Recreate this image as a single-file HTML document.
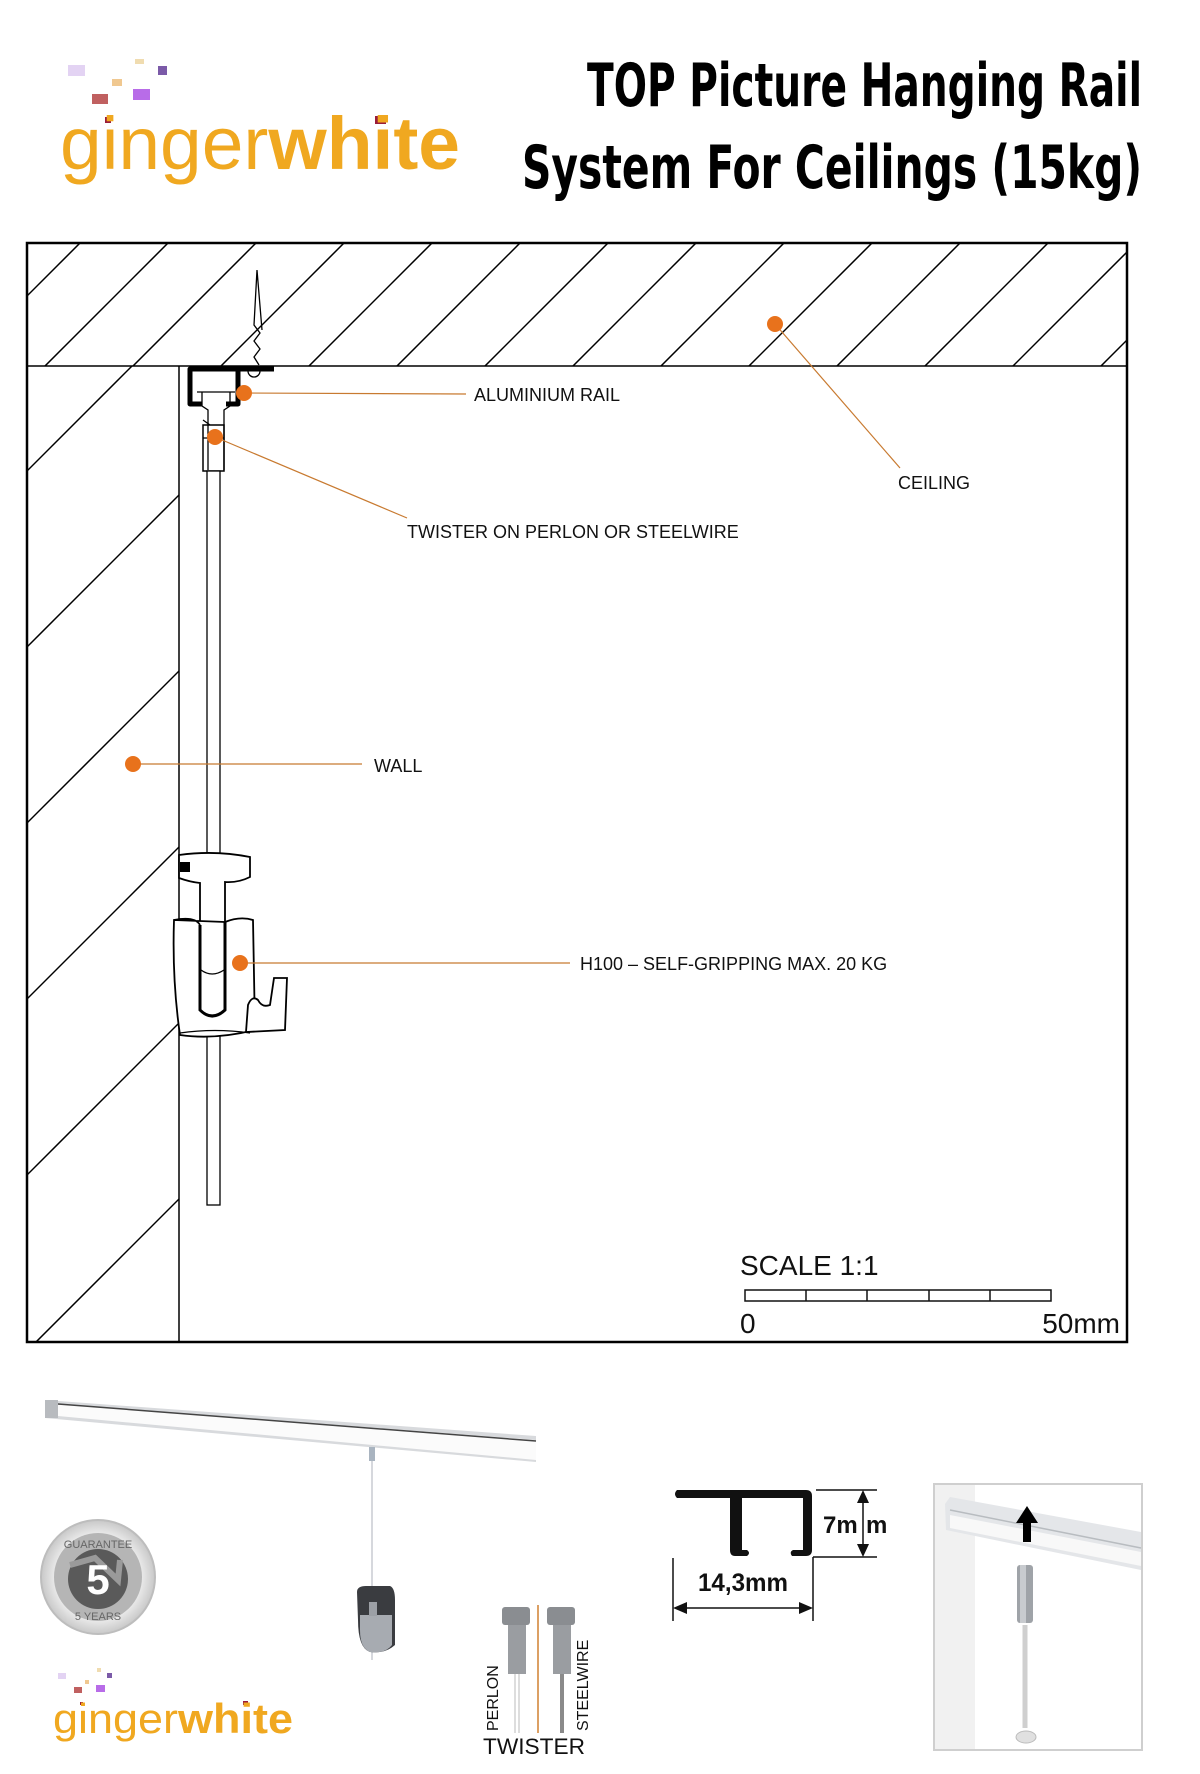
<!DOCTYPE html>
<html><head><meta charset="utf-8"><style>
html,body{margin:0;padding:0;background:#fff;}
svg{display:block;}
</style></head><body>
<svg width="1200" height="1774" viewBox="0 0 1200 1774" xmlns="http://www.w3.org/2000/svg" font-family="Liberation Sans, sans-serif">
<defs>
<clipPath id="ceil"><rect x="27" y="243" width="1100" height="123"/></clipPath>
<clipPath id="wall"><rect x="27" y="366" width="152" height="976"/></clipPath>
<linearGradient id="gr" x1="0" y1="0" x2="0" y2="1"><stop offset="0" stop-color="#9a9da2"/><stop offset="1" stop-color="#c9ccd0"/></linearGradient>
<radialGradient id="bd" cx="0.5" cy="0.5" r="0.5"><stop offset="0.7" stop-color="#f2f2f2"/><stop offset="1" stop-color="#c8c8c8"/></radialGradient>
</defs>

<!-- top logo -->
<rect x="68" y="65" width="17" height="11" fill="#e3d3f3"/>
<rect x="135" y="59" width="9" height="5" fill="#f0dcb0"/>
<rect x="158" y="66" width="9" height="9" fill="#7b5aa8"/>
<rect x="112" y="79" width="10" height="7" fill="#f0c890"/>
<rect x="92" y="94" width="16" height="10" fill="#c06060"/>
<rect x="133" y="89" width="17" height="11" fill="#b86ce8"/>
<rect x="105" y="117" width="6" height="6" fill="#9a1c3a"/>
<rect x="375" y="116" width="11" height="8" fill="#9a1c3a"/>
<text x="60" y="169" font-size="74" fill="#f0a820" textLength="400" lengthAdjust="spacingAndGlyphs"><tspan>ginger</tspan><tspan font-weight="bold">white</tspan></text>

<!-- title -->
<text x="1142" y="106" font-size="60" font-weight="bold" text-anchor="end" textLength="555" lengthAdjust="spacingAndGlyphs" font-family="DejaVu Sans Condensed, Liberation Sans, sans-serif">TOP Picture Hanging Rail</text>
<text x="1142" y="188" font-size="60" font-weight="bold" text-anchor="end" textLength="620" lengthAdjust="spacingAndGlyphs" font-family="DejaVu Sans Condensed, Liberation Sans, sans-serif">System For Ceilings (15kg)</text>

<!-- main box -->
<g stroke="#000" stroke-width="1.5" fill="none">
<g clip-path="url(#ceil)">
<line x1="-200" y1="523" x2="700" y2="-377"/>
<line x1="-112" y1="523" x2="788" y2="-377"/>
<line x1="-24" y1="523" x2="876" y2="-377"/>
<line x1="64" y1="523" x2="964" y2="-377"/>
<line x1="152" y1="523" x2="1052" y2="-377"/>
<line x1="240" y1="523" x2="1140" y2="-377"/>
<line x1="328" y1="523" x2="1228" y2="-377"/>
<line x1="416" y1="523" x2="1316" y2="-377"/>
<line x1="504" y1="523" x2="1404" y2="-377"/>
<line x1="592" y1="523" x2="1492" y2="-377"/>
<line x1="680" y1="523" x2="1580" y2="-377"/>
<line x1="768" y1="523" x2="1668" y2="-377"/>
<line x1="856" y1="523" x2="1756" y2="-377"/>
<line x1="944" y1="523" x2="1844" y2="-377"/>
<line x1="1032" y1="523" x2="1932" y2="-377"/>
<line x1="1120" y1="523" x2="2020" y2="-377"/>
<line x1="1208" y1="523" x2="2108" y2="-377"/>
</g>
<g clip-path="url(#wall)">
<line x1="-200" y1="698" x2="500" y2="-2"/>
<line x1="-200" y1="874" x2="700" y2="-26"/>
<line x1="-200" y1="1050" x2="900" y2="-50"/>
<line x1="-200" y1="1226" x2="1100" y2="-74"/>
<line x1="-200" y1="1402" x2="1300" y2="-98"/>
<line x1="-200" y1="1578" x2="1500" y2="-122"/>
<line x1="-200" y1="1754" x2="1700" y2="54"/>
</g>
<line x1="27" y1="366" x2="1127" y2="366"/>
<line x1="179" y1="366" x2="179" y2="1342"/>
</g>
<rect x="27" y="243" width="1100" height="1099" fill="none" stroke="#000" stroke-width="2.5"/>

<!-- screw -->
<path d="M257,270 L254,325 L260,333 L254,341 L260,349 L254,357 L259,365 M257,270 L262,330" stroke="#000" stroke-width="1.3" fill="none"/>
<path d="M248,371 A6,6 0 0 0 260,371" stroke="#000" stroke-width="1.3" fill="none"/>
<!-- rail -->
<path d="M274,369 H190 V404 H202 M238,371 V404 H226" stroke="#000" stroke-width="5" fill="none" stroke-linejoin="round"/>
<path d="M197,392 H235 M202,392 V406 L208,410 V470 M230,392 V406 L224,410 V470" stroke="#000" stroke-width="1.3" fill="none"/>
<path d="M203,420 L210,425 M203,438 H224" stroke="#000" stroke-width="1.3" fill="none"/>
<rect x="203" y="425" width="21" height="46" fill="none" stroke="#000" stroke-width="1.5"/>
<!-- wire -->
<rect x="207" y="471" width="13" height="734" fill="#fff" stroke="#000" stroke-width="1.3"/>
<!-- H100 -->
<path d="M179,855 Q215,850 250,857 V877 Q238,883 225,882 V1010 Q212,1018 200,1010 V883 Q190,882 179,878 Z" fill="#fff" stroke="#000" stroke-width="1.8"/>
<rect x="180" y="862" width="10" height="10" fill="#000"/>
<path d="M174,920 Q195,916 200,925 M225,922 Q240,916 253,920 L255,1030 Q215,1040 180,1035 Q172,980 174,920 Z" fill="#fff" stroke="#000" stroke-width="1.8"/>
<path d="M200,925 V1010 Q212,1022 225,1010 V922" fill="none" stroke="#000" stroke-width="3"/>
<path d="M201,970 Q212,978 224,970" fill="none" stroke="#000" stroke-width="1.3"/>
<path d="M246,1032 L248,1005 Q252,995 258,1000 Q262,1008 270,1005 L274,978 H287 L285,1030 Z" fill="#fff" stroke="#000" stroke-width="1.8"/>
<path d="M180,1033 Q215,1028 250,1033" fill="none" stroke="#000" stroke-width="1.3"/>

<!-- leaders -->
<g stroke="#c87a30" stroke-width="1.2">
<line x1="244" y1="393" x2="466" y2="394"/>
<line x1="215" y1="437" x2="407" y2="518"/>
<line x1="775" y1="324" x2="900" y2="468"/>
<line x1="133" y1="764" x2="362" y2="764"/>
<line x1="240" y1="963" x2="570" y2="963"/>
</g>
<g fill="#e8721c">
<circle cx="244" cy="393" r="8"/>
<circle cx="215" cy="437" r="8"/>
<circle cx="775" cy="324" r="8"/>
<circle cx="133" cy="764" r="8"/>
<circle cx="240" cy="963" r="8"/>
</g>
<g font-size="18" fill="#111">
<text x="474" y="401">ALUMINIUM RAIL</text>
<text x="407" y="538">TWISTER ON PERLON OR STEELWIRE</text>
<text x="898" y="489">CEILING</text>
<text x="374" y="772">WALL</text>
<text x="580" y="970">H100 – SELF-GRIPPING MAX. 20 KG</text>
</g>
<!-- scale -->
<text x="740" y="1275" font-size="28" fill="#111">SCALE 1:1</text>
<rect x="745" y="1290" width="306" height="11" fill="#fff" stroke="#111" stroke-width="1.5"/>
<g stroke="#111" stroke-width="1.5"><line x1="806" y1="1290" x2="806" y2="1301"/><line x1="867" y1="1290" x2="867" y2="1301"/><line x1="929" y1="1290" x2="929" y2="1301"/><line x1="990" y1="1290" x2="990" y2="1301"/></g>
<text x="740" y="1333" font-size="28" fill="#111">0</text>
<text x="1120" y="1333" font-size="28" fill="#111" text-anchor="end">50mm</text>

<!-- bottom rail photo -->
<polygon points="45,1400 536,1436 536,1462 45,1418" fill="#d8dadd"/>
<polygon points="58,1404 536,1440 536,1460 58,1416" fill="#fbfbfb"/>
<line x1="58" y1="1404" x2="536" y2="1441" stroke="#444" stroke-width="1.5"/>
<rect x="45" y="1400" width="13" height="18" fill="#b8bbbf"/>
<rect x="369" y="1447" width="6" height="14" fill="#a9b4c0"/>
<line x1="372" y1="1461" x2="372" y2="1660" stroke="#c8ccd2" stroke-width="1.5"/>
<path d="M357,1592 Q357,1586 366,1586 H390 Q395,1588 395,1600 V1645 Q385,1654 370,1652 Q358,1648 358,1620 Z" fill="#3a3c40"/>
<path d="M360,1615 H392 V1645 Q385,1654 370,1652 Q360,1648 360,1630 Z" fill="#a7abb1"/>
<rect x="369" y="1602" width="8" height="14" fill="#9ca0a6"/>

<!-- badge -->
<circle cx="98" cy="1577" r="57" fill="url(#bd)" stroke="#bdbdbd" stroke-width="2"/>
<circle cx="98" cy="1577" r="44" fill="#b5b5b5"/>
<circle cx="98" cy="1579" r="30" fill="#5a5a5a"/>
<path d="M70,1565 L95,1558 L118,1580 L120,1560" fill="none" stroke="#9a9a9a" stroke-width="6"/>
<text x="98" y="1594" font-size="42" font-weight="bold" fill="#fff" text-anchor="middle">5</text>
<text x="98" y="1548" font-size="11" fill="#666" text-anchor="middle">GUARANTEE</text>
<text x="98" y="1620" font-size="11" fill="#666" text-anchor="middle">5 YEARS</text>

<!-- bottom logo -->
<rect x="58" y="1673" width="8" height="6" fill="#e3d3f3"/>
<rect x="97" y="1668" width="4" height="4" fill="#f0dcb0"/>
<rect x="107" y="1673" width="5" height="5" fill="#7b5aa8"/>
<rect x="85" y="1680" width="4" height="4" fill="#f0c890"/>
<rect x="74" y="1687" width="8" height="6" fill="#c06060"/>
<rect x="96" y="1685" width="9" height="7" fill="#b86ce8"/>
<rect x="80" y="1702" width="3" height="3" fill="#9a1c3a"/>
<rect x="243" y="1701" width="5" height="4" fill="#9a1c3a"/>
<text x="53" y="1733" font-size="42" fill="#f0a820" textLength="240" lengthAdjust="spacingAndGlyphs"><tspan>ginger</tspan><tspan font-weight="bold">white</tspan></text>

<!-- twisters -->
<rect x="502" y="1607" width="28" height="18" rx="3" fill="#8a8d91"/>
<rect x="508" y="1625" width="18" height="49" fill="#9a9da1"/>
<rect x="547" y="1607" width="28" height="18" rx="3" fill="#8a8d91"/>
<rect x="553" y="1625" width="18" height="49" fill="#9a9da1"/>
<line x1="515" y1="1674" x2="515" y2="1733" stroke="#ddd" stroke-width="2"/>
<line x1="519" y1="1674" x2="519" y2="1733" stroke="#ddd" stroke-width="2"/>
<line x1="562" y1="1674" x2="562" y2="1733" stroke="#8a8a8a" stroke-width="4"/>
<line x1="538" y1="1605" x2="538" y2="1733" stroke="#d08030" stroke-width="1.5"/>
<text transform="translate(498,1731) rotate(-90)" font-size="16" fill="#111">PERLON</text>
<text transform="translate(588,1731) rotate(-90)" font-size="16" fill="#111">STEELWIRE</text>
<text x="483" y="1754" font-size="22" fill="#111" textLength="102" lengthAdjust="spacingAndGlyphs">TWISTER</text>

<!-- profile -->
<path d="M677,1490 H806 Q812,1490 812,1496 V1550 Q812,1556 806,1556 H792 Q789,1552 793,1550 H803 V1498 H742 V1550 H747 Q751,1553 747,1556 H735 Q730,1556 730,1550 V1498 H677 Q673,1494 677,1490 Z" fill="#111"/>
<g stroke="#111" stroke-width="1.5" fill="none">
<line x1="816" y1="1490" x2="877" y2="1490"/>
<line x1="813" y1="1557" x2="813" y2="1621"/>
<line x1="813" y1="1557" x2="877" y2="1557"/>
<line x1="673" y1="1558" x2="673" y2="1621"/>
<line x1="863" y1="1496" x2="863" y2="1551"/>
<line x1="679" y1="1608" x2="807" y2="1608"/>
</g>
<g fill="#111">
<polygon points="863,1490 857,1503 869,1503"/>
<polygon points="863,1557 857,1544 869,1544"/>
<polygon points="673,1608 687,1602 687,1614"/>
<polygon points="813,1608 799,1602 799,1614"/>
</g>
<text x="823" y="1533" font-size="24" font-weight="bold" fill="#111">7m</text>
<text x="866" y="1533" font-size="24" font-weight="bold" fill="#111">m</text>
<text x="698" y="1591" font-size="25" font-weight="bold" fill="#111" textLength="90" lengthAdjust="spacingAndGlyphs">14,3mm</text>

<!-- install photo -->
<rect x="934" y="1484" width="208" height="266" fill="#fff" stroke="#cfcfcf" stroke-width="2"/>
<rect x="935" y="1485" width="40" height="264" fill="#f1f1f1"/>
<polygon points="945,1504 950,1497 1141,1532 1141,1570 946,1530" fill="#e4e6e9"/>
<polygon points="950,1515 1141,1552 1141,1566 950,1528" fill="#f8f8f8"/>
<line x1="950" y1="1510" x2="1141" y2="1548" stroke="#b8bcc0" stroke-width="1.5"/>
<rect x="1023" y="1521" width="8" height="21" fill="#000"/>
<polygon points="1016,1523 1027,1506 1038,1523" fill="#000"/>
<rect x="1017" y="1565" width="16" height="58" rx="3" fill="#9fa3a8"/>
<rect x="1020" y="1565" width="6" height="58" fill="#c8cbcf"/>
<line x1="1025" y1="1625" x2="1025" y2="1728" stroke="#cfcfcf" stroke-width="5"/>
<ellipse cx="1026" cy="1737" rx="10" ry="6" fill="#e0e0e0" stroke="#bbb"/>
</svg>
</body></html>
